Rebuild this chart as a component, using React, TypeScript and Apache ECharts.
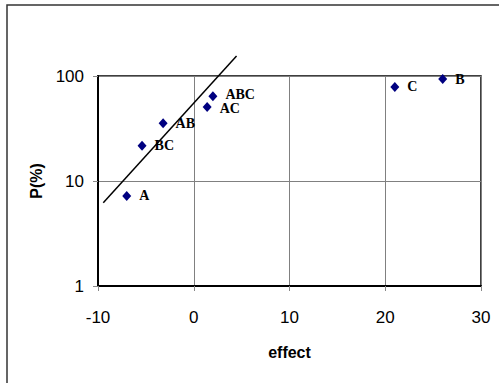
import React, { useEffect, useRef } from "react";
import * as echarts from "echarts";

const names = ["A", "B", "C", "AB", "AC", "BC", "ABC"];
const effects = [-7, 26, 21, -3.2, 1.4, -5.4, 2.0];
const probs = [7.2, 93.6, 78.6, 35.4, 50.7, 21.7, 64.1];
const lineX = [-9.45, 4.47];
const lineY = [6.2, 155];
const labelNudge: Record<string, number> = { ABC: -2, AC: 2 };

export default function App() {
  const ref = useRef<HTMLDivElement>(null);
  useEffect(() => {
    document.body.style.margin = "0";
    const chart = echarts.init(ref.current!, null, { renderer: "svg" });
    const tickFont = { fontFamily: "'Liberation Sans', Arial, sans-serif", fontSize: 17, color: "#000" };
    chart.setOption({
      animation: false,
      backgroundColor: "#fff",
      grid: {
        left: 98,
        right: 18,
        top: 76,
        bottom: 97,
        show: true,
        borderColor: "#000",
        borderWidth: 1.5,
        backgroundColor: "transparent",
      },
      graphic: [
        {
          type: "rect",
          shape: { x: 7, y: 5, width: 1000, height: 1000 },
          style: { fill: "none", stroke: "#333", lineWidth: 1.5 },
          silent: true,
        },
      ],
      xAxis: {
        type: "value",
        min: -10,
        max: 30,
        interval: 10,
        name: "effect",
        nameLocation: "middle",
        nameGap: 58,
        nameTextStyle: { fontFamily: "'Liberation Sans', Arial, sans-serif", fontSize: 16, fontWeight: "bold", color: "#000" },
        axisLine: { onZero: false, lineStyle: { color: "#000", width: 2 } },
        axisTick: { show: true, length: 5, lineStyle: { color: "#888", width: 1 } },
        axisLabel: { ...tickFont, margin: 23 },
        splitLine: { show: true, lineStyle: { color: "#808080", width: 1 } },
      },
      yAxis: {
        type: "log",
        logBase: 10,
        min: 1,
        max: 100,
        name: "P(%)",
        nameLocation: "middle",
        nameGap: 52,
        nameTextStyle: { fontFamily: "'Liberation Sans', Arial, sans-serif", fontSize: 16, fontWeight: "bold", color: "#000" },
        axisLine: { show: true, onZero: false, lineStyle: { color: "#000", width: 2 } },
        axisTick: { show: true, length: 5, lineStyle: { color: "#888", width: 1 } },
        axisLabel: { ...tickFont, margin: 14 },
        splitLine: { show: true, lineStyle: { color: "#808080", width: 1 } },
        minorTick: { show: false },
      },
      series: [
        {
          type: "line",
          data: lineX.map((x, i) => [x, lineY[i]]),
          clip: false,
          symbol: "none",
          lineStyle: { color: "#000", width: 1.5 },
          z: 3,
        },
        {
          type: "scatter",
          data: names.map((n, i) => ({
            value: [effects[i], probs[i], n],
            label: { offset: [0, labelNudge[n] || 0] },
          })),
          symbol: "diamond",
          symbolSize: [9, 10],
          itemStyle: { color: "#000080", opacity: 1 },
          clip: false,
          z: 4,
          label: {
            show: true,
            position: "right",
            distance: 8,
            formatter: (p: any) => p.value[2],
            fontFamily: "'Liberation Serif', 'Times New Roman', serif",
            fontWeight: "bold",
            fontSize: 14,
            lineHeight: 10,
            color: "#000",
          },
        },
      ],
    });
    return () => chart.dispose();
  }, []);
  return <div ref={ref} style={{ width: 499, height: 383 }} />;
}
